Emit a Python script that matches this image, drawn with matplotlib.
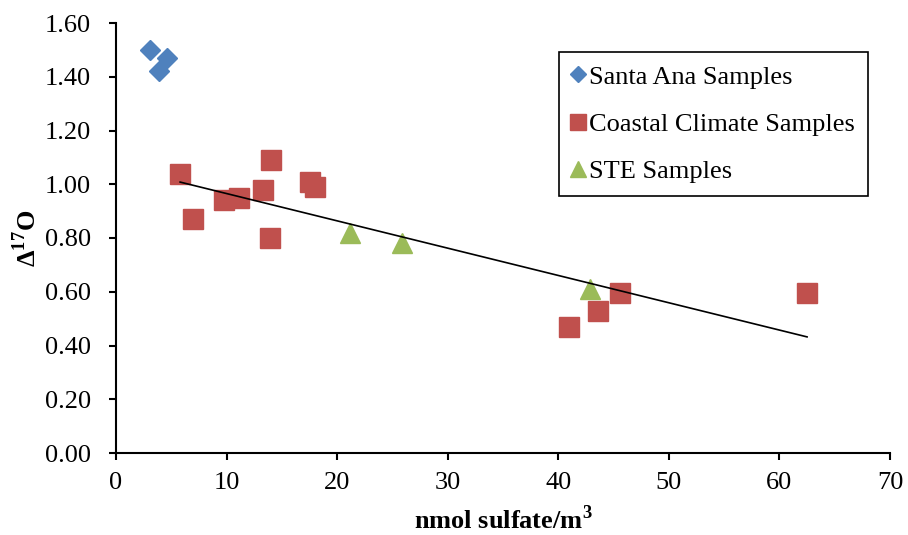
import matplotlib.pyplot as plt
import numpy as np

plt.rcParams['font.family'] = ['Liberation Serif', 'DejaVu Serif']
plt.rcParams['mathtext.fontset'] = 'custom'
plt.rcParams['mathtext.rm'] = 'Liberation Serif'
plt.rcParams['mathtext.bf'] = 'Liberation Serif:bold'

# 数据
santa_x = [3.1, 4.6, 3.9]
santa_y = [1.50, 1.47, 1.42]

coastal_x = [5.8, 7.0, 9.8, 11.1, 13.3, 14.0, 13.9, 17.5, 18.0, 41.0, 43.6, 45.6, 62.5]
coastal_y = [1.04, 0.87, 0.94, 0.95, 0.98, 1.09, 0.80, 1.01, 0.99, 0.47, 0.53, 0.595, 0.595]

ste_x = [21.2, 25.9, 42.9]
ste_y = [0.82, 0.78, 0.61]

# trend line: slope, intercept, x range
trend_coef = [-0.01016, 1.067]
trend_x = [5.8, 62.5]

x_ticks = [0, 10, 20, 30, 40, 50, 60, 70]
y_ticks = [0.00, 0.20, 0.40, 0.60, 0.80, 1.00, 1.20, 1.40, 1.60]

fs = 19

fig = plt.figure(figsize=(9.08, 5.35), dpi=100)
ax = fig.add_axes([116/908, 1 - 453/535, (890-116)/908, (453-23)/535])

ax.plot(santa_x, santa_y, linestyle='none', marker='D', markersize=10,
        color='#4F81BD', markeredgecolor='#4F81BD', label='Santa Ana Samples', zorder=3)
ax.plot(coastal_x, coastal_y, linestyle='none', marker='s', markersize=14,
        color='#C0504D', markeredgecolor='#C0504D', label='Coastal Climate Samples', zorder=3)
ax.plot(ste_x, ste_y, linestyle='none', marker='^', markersize=14,
        color='#9BBB59', markeredgecolor='#9BBB59', label='STE Samples', zorder=3)

tx = np.array(trend_x)
ax.plot(tx, np.polyval(trend_coef, tx), color='black', linewidth=1.2, zorder=4)

ax.set_xlim(0, 70)
ax.set_ylim(0, 1.6)
ax.set_xticks(x_ticks)
ax.set_yticks(y_ticks)
ax.set_yticklabels(['%.2f' % v for v in y_ticks])

for s in ['top', 'right']:
    ax.spines[s].set_visible(False)
for s in ['left', 'bottom']:
    ax.spines[s].set_linewidth(1.5)
ax.tick_params(direction='out', length=5, width=1.5, labelsize=fs)
ax.tick_params(axis='x', pad=9)
ax.tick_params(axis='y', pad=13)

ax.set_xlabel('nmol sulfate/m$^\\mathbf{3}$', fontsize=fs, fontweight='bold', labelpad=8)
ax.set_ylabel('Δ$^\\mathbf{17}$O', fontsize=fs, fontweight='bold', labelpad=3)

leg = ax.legend(loc='upper right', fontsize=fs,
                markerscale=0.85, handlelength=0.5, handletextpad=0.15,
                labelspacing=0.9, borderpad=0.5, borderaxespad=0, fancybox=False,
                framealpha=1, edgecolor='black')
leg.get_frame().set_linewidth(1.2)
leg.set_bbox_to_anchor((868/908, 1 - 52/535), transform=fig.transFigure)

fig.savefig('out.png', dpi=100)
